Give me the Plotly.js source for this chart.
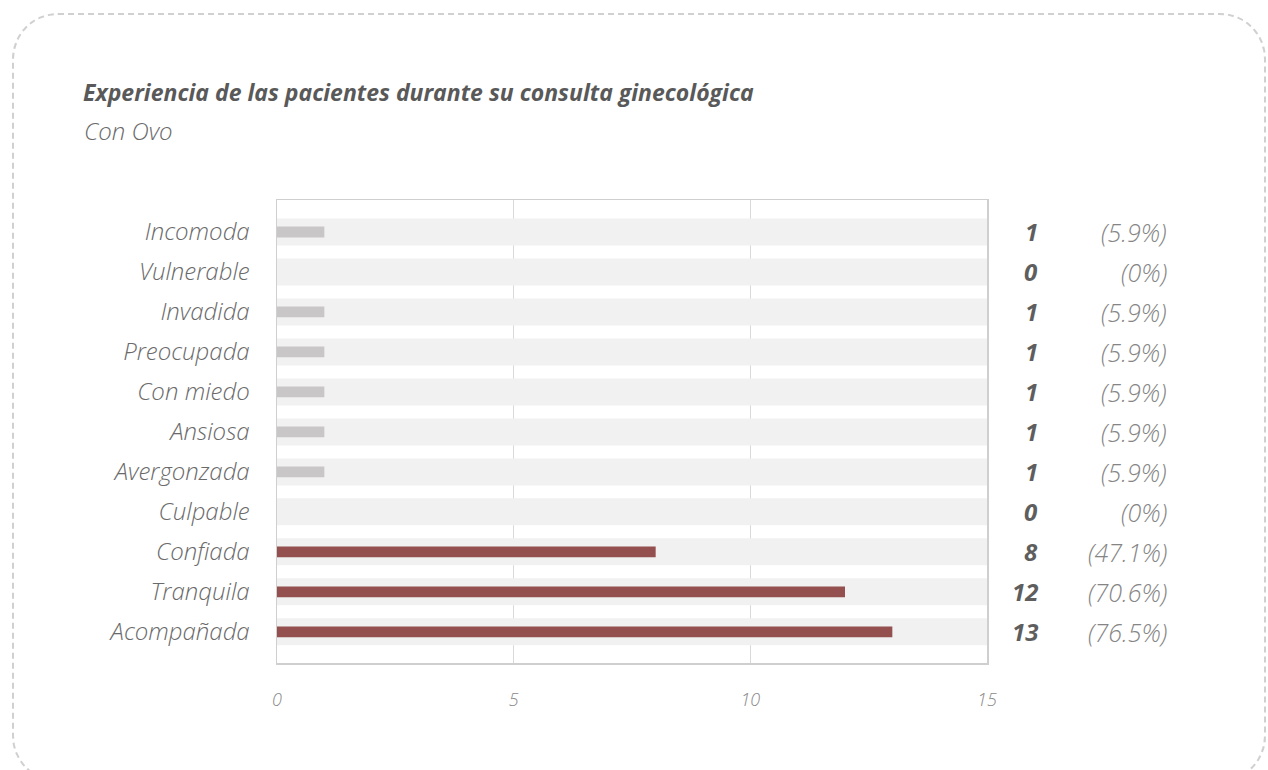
<!DOCTYPE html>
<html>
<head>
<meta charset="utf-8">
<script src="https://cdn.plot.ly/plotly-3.0.1.min.js"></script>
<style>
  html, body { margin: 0; padding: 0; width: 1268px; height: 770px; overflow: hidden; background: #fff; }
  #frame { position: absolute; left: 12px; top: 13px; width: 1250px; height: 765px; border: 2px dashed #d0d0d0; border-radius: 46px; pointer-events: none; }
  #chart { position: absolute; left: 0; top: 0; width: 1268px; height: 770px; }
</style>
</head>
<body>
<div id="frame"></div>
<div id="chart"></div>
<script>
const categories = ["Incomoda", "Vulnerable", "Invadida", "Preocupada", "Con miedo", "Ansiosa", "Avergonzada", "Culpable", "Confiada", "Tranquila", "Acompañada"];
const counts = [1, 0, 1, 1, 1, 1, 1, 0, 8, 12, 13];
const percentLabels = ["(5.9%)", "(0%)", "(5.9%)", "(5.9%)", "(5.9%)", "(5.9%)", "(5.9%)", "(0%)", "(47.1%)", "(70.6%)", "(76.5%)"];
const highlighted = ["Confiada", "Tranquila", "Acompañada"];
const axisMax = 15;
const xTicks = [0, 5, 10, 15];

const W = 1268, H = 770;
const L = 277, R = 987, T = 200, B = 663;
const px2x = p => (p - L) / (R - L);
const py2y = p => 1 - (p - T) / (B - T);

const FONT = "'Open Sans', Roboto, sans-serif";

const barColors = categories.map(c => highlighted.includes(c) ? "#944f4f" : "#c9c6c7");

const bands = {
  type: "bar", orientation: "h",
  y: categories, x: categories.map(() => axisMax),
  width: 0.675,
  marker: { color: "#f1f1f1", line: { width: 0 } },
  hoverinfo: "skip", showlegend: false
};
const bars = {
  type: "bar", orientation: "h",
  y: categories, x: counts,
  width: 0.27,
  marker: { color: barColors, cornerradius: 4, line: { width: 0 } },
  hoverinfo: "x+y", showlegend: false
};

const annotations = [];
categories.forEach((c, i) => {
  annotations.push({
    xref: "paper", yref: "y", x: px2x(1040), y: c, xanchor: "right", yanchor: "middle",
    text: "<b><i>" + counts[i] + "</i></b>", showarrow: false,
    font: { family: FONT, size: 24, color: "#5e5e5e" }
  });
  annotations.push({
    xref: "paper", yref: "y", x: px2x(1169), y: c, xanchor: "right", yanchor: "middle",
    text: "<i>" + percentLabels[i] + "</i>", showarrow: false,
    font: { family: FONT, size: 25, color: "#858585", weight: 300 }
  });
});
annotations.push({
  xref: "paper", yref: "paper", x: px2x(82), y: py2y(131), xanchor: "left", yanchor: "middle",
  text: "<i>Con Ovo</i>", showarrow: false,
  font: { family: FONT, size: 24, color: "#6a6a6a", weight: 300 }
});

const layout = {
  width: W, height: H,
  margin: { l: L, r: W - R, t: T, b: H - B, pad: 0 },
  paper_bgcolor: "rgba(0,0,0,0)", plot_bgcolor: "rgba(0,0,0,0)",
  barmode: "overlay",
  title: {
    text: "<b><i>Experiencia de las pacientes durante su consulta ginecológica</i></b>",
    xref: "container", yref: "container", x: 83 / W, xanchor: "left",
    y: 1 - 93 / H, yanchor: "middle",
    font: { family: FONT, size: 23, color: "#595959" }
  },
  xaxis: {
    range: [0, axisMax], tickvals: xTicks, ticktext: xTicks.map(String),
    showgrid: true, gridcolor: "#d9d9d9", gridwidth: 1.5,
    zeroline: false,
    showline: true, linecolor: "#cfcfcf", linewidth: 1.5, mirror: true,
    ticks: "outside", ticklen: 20, tickcolor: "rgba(0,0,0,0)",
    tickfont: { family: FONT, size: 18, color: "#8a8a8a", style: "italic", weight: 300 },
    fixedrange: true
  },
  yaxis: {
    type: "category", categoryorder: "array", categoryarray: categories,
    range: [10.78, -0.8],
    showgrid: false, zeroline: false,
    showline: true, linecolor: "#cfcfcf", linewidth: 1.5, mirror: true,
    ticks: "outside", ticklen: 21, tickcolor: "rgba(0,0,0,0)",
    tickfont: { family: FONT, size: 24, color: "#6a6a6a", style: "italic", weight: 300 },
    fixedrange: true
  },
  annotations: annotations,
  font: { family: FONT }
};

Plotly.newPlot("chart", [bands, bars], layout, { displayModeBar: false, staticPlot: true });
</script>
</body>
</html>
